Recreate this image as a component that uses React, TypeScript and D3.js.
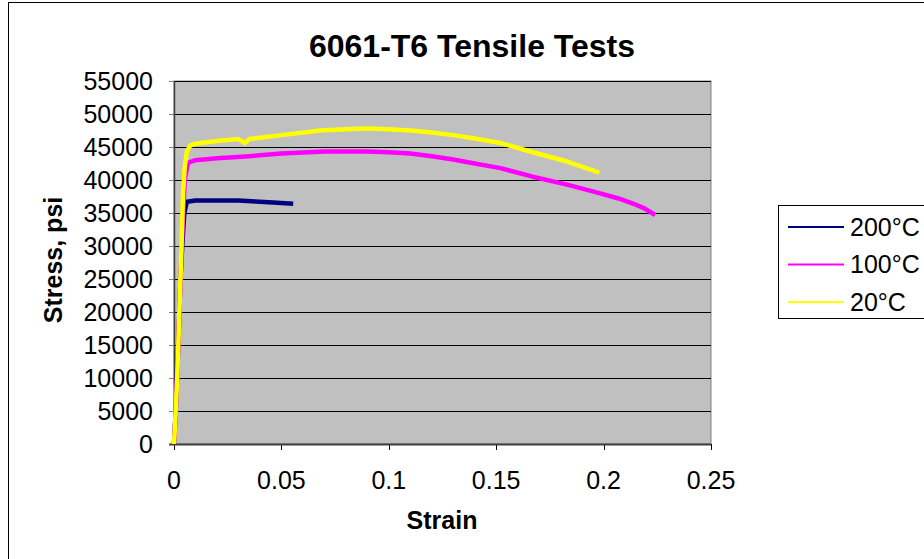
import React from "react";
import * as d3 from "d3";

const title = "6061-T6 Tensile Tests";
const xTicks = [0, 0.05, 0.1, 0.15, 0.2, 0.25];
const xTickLabels = ["0", "0.05", "0.1", "0.15", "0.2", "0.25"];
const yTicks = [0, 5000, 10000, 15000, 20000, 25000, 30000, 35000, 40000, 45000, 50000, 55000];

const seriesNames = ["200°C", "100°C", "20°C"];
const seriesColors = ["#000080", "#FF00FF", "#FFFF00"];

const strain200 = [0, 0.0008, 0.002, 0.003, 0.004, 0.0048, 0.006, 0.01, 0.02, 0.03, 0.04, 0.05, 0.0555];
const stress200 = [0, 5000, 15000, 25000, 31000, 35000, 36700, 36900, 36900, 36900, 36700, 36500, 36400];

const strain100 = [0, 0.0008, 0.002, 0.003, 0.004, 0.005, 0.0065, 0.01, 0.02, 0.035, 0.05, 0.07, 0.09, 0.1, 0.11, 0.12, 0.13, 0.14, 0.152, 0.167, 0.183, 0.198, 0.207, 0.214, 0.219, 0.224];
const stress100 = [0, 5000, 15000, 25000, 33000, 40000, 42600, 43000, 43300, 43600, 44000, 44300, 44300, 44200, 44000, 43600, 43100, 42500, 41800, 40500, 39300, 38000, 37200, 36400, 35700, 34700];

const strain20 = [0, 0.0005, 0.0015, 0.0025, 0.0035, 0.0042, 0.005, 0.006, 0.0075, 0.01, 0.02, 0.03, 0.033, 0.035, 0.05, 0.068, 0.08, 0.09, 0.1, 0.11, 0.12, 0.13, 0.14, 0.152, 0.167, 0.183, 0.198];
const stress20 = [0, 3000, 10000, 20000, 30000, 38000, 42000, 44300, 45200, 45500, 45900, 46200, 45600, 46200, 46800, 47500, 47700, 47800, 47700, 47500, 47200, 46800, 46300, 45600, 44200, 42800, 41100];

const strains = [strain200, strain100, strain20];
const stresses = [stress200, stress100, stress20];

const W = 924;
const H = 559;
const plot = { left: 174, right: 711, top: 81, bottom: 444 };
const FONT = "Liberation Sans, Arial, sans-serif";

export default function App() {
  const x = d3.scaleLinear().domain([0, 0.25]).range([plot.left, plot.right]);
  const y = d3.scaleLinear().domain([0, 55000]).range([plot.bottom, plot.top]);
  const line = d3
    .line<[number, number]>()
    .x((d) => x(d[0]))
    .y((d) => y(d[1]));

  return (
    <svg
      width={W}
      height={H}
      style={{ position: "absolute", left: 0, top: 0, background: "#fff" }}
      fontFamily={FONT}
    >
      <rect x={8.5} y={2.5} width={1000} height={700} fill="#fff" stroke="#000" strokeWidth={1} />
      <text x={472} y={57} textAnchor="middle" fontWeight="bold" fontSize={32}>
        {title}
      </text>
      <rect
        x={plot.left}
        y={plot.top}
        width={plot.right - plot.left}
        height={plot.bottom - plot.top}
        fill="#C0C0C0"
        stroke="#808080"
        strokeWidth={1}
      />
      {yTicks.map((t) => (
        <g key={t}>
          {t > 0 && (
            <line x1={plot.left} x2={plot.right} y1={Math.round(y(t)) + 0.5} y2={Math.round(y(t)) + 0.5} stroke="#000" strokeWidth={1} />
          )}
          <line x1={plot.left - 5} x2={plot.left} y1={Math.round(y(t)) + 0.5} y2={Math.round(y(t)) + 0.5} stroke="#808080" />
          <text x={153} y={y(t)} dy="0.35em" textAnchor="end" fontSize={25}>
            {t}
          </text>
        </g>
      ))}
      {xTicks.map((t, i) => (
        <g key={t}>
          <line x1={Math.round(x(t)) + 0.5} x2={Math.round(x(t)) + 0.5} y1={plot.bottom} y2={plot.bottom + 6} stroke="#000" />
          <text x={x(t)} y={489} textAnchor="middle" fontSize={25}>
            {xTickLabels[i]}
          </text>
        </g>
      ))}
      <line x1={plot.left + 0.5} x2={plot.left + 0.5} y1={plot.top} y2={plot.bottom} stroke="#404040" strokeWidth={1.5} />
      <line x1={plot.left - 5} x2={plot.right} y1={plot.bottom + 0.5} y2={plot.bottom + 0.5} stroke="#404040" strokeWidth={2} />
      {strains.map((s, i) => (
        <path
          key={i}
          d={line(s.map((v, j) => [v, stresses[i][j]] as [number, number])) || ""}
          fill="none"
          stroke={seriesColors[i]}
          strokeWidth={4.5}
          strokeLinejoin="round"
        />
      ))}
      <text x={442} y={529} textAnchor="middle" fontWeight="bold" fontSize={25}>
        Strain
      </text>
      <text
        transform={`translate(62,260) rotate(-90)`}
        textAnchor="middle"
        fontWeight="bold"
        fontSize={25}
      >
        Stress, psi
      </text>
      <rect x={778.5} y={205.5} width={200} height={113} fill="#fff" stroke="#000" strokeWidth={1} />
      {seriesNames.map((n, i) => (
        <g key={n}>
          <line x1={788} x2={844} y1={227 + i * 37.5} y2={227 + i * 37.5} stroke={seriesColors[i]} strokeWidth={2} />
          <text x={850} y={227 + i * 37.5} dy="0.35em" fontSize={25}>
            {n}
          </text>
        </g>
      ))}
    </svg>
  );
}
